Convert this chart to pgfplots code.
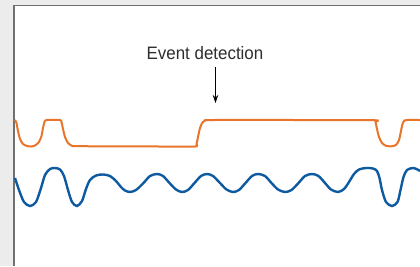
\documentclass[border=0pt]{standalone}
\usepackage{fontspec}
\setmainfont{Liberation Sans}
\newfontfamily\condfont{Liberation Sans}[FakeStretch=0.94]
\usepackage{pgfplots}
\pgfplotsset{compat=1.18}
\usetikzlibrary{arrows.meta}
\definecolor{bggray}{HTML}{EBECEB}
\definecolor{bordergray}{HTML}{707070}
\definecolor{sigorange}{HTML}{E8752A}
\definecolor{sigblue}{HTML}{0E5AA0}
\definecolor{txtgray}{HTML}{2E2E2E}
\begin{document}
\begin{tikzpicture}
\begin{axis}[
  scale only axis, width=420pt, height=266pt,
  xmin=0, xmax=420, ymin=0, ymax=266, y dir=reverse,
  axis line style={draw=none}, ticks=none,
  axis background/.style={fill=bggray},
  clip=true,
]
\fill[white] (axis cs:14,5.5) rectangle (axis cs:420,266);
\draw[bordergray, line width=1.8pt] (axis cs:14,266) -- (axis cs:14,5.5) -- (axis cs:420,5.5);

% orange event signal
\addplot[sigorange, line width=2pt, smooth, tension=0.4] coordinates {
 (15,120) (16.5,123) (18,131) (20,139) (23,144) (27,146) (31,146.5) (35,145.5) (39,142) (41.5,136) (43,128) (44.5,122) (46.5,120)
 (60,120) (61.5,122) (63,129) (65,137) (68,143) (72,145.8) (76,146.2)
 (120,146.3) (160,146.5) (195,146.5) (196.5,144) (198,137) (200,128) (202.5,122.5) (206,120.2) (210,120)
 (300,120) (374,120.2) (375.5,122) (377,129) (379,137) (382,143) (386,145.8) (391,146.3) (396,145) (399,140) (400.8,132) (402.5,124) (404.5,120.5) (407,120) (420,120)
};

% blue raw signal
\addplot[sigblue, line width=2.4pt, smooth, tension=0.5] coordinates {
 (15,178) (19,190) (24,202) (30,206) (36,202) (41,188) (45,175) (50,169) (55,168) (60,169.5) (64,176) (68,190) (72,202) (77,206) (82,201) (86,189) (90,180) (96,175.5) (103,174.5) (110,176) (116,181)
 (121,187) (125,190.5) (130,192) (136,190) (143.5,183) (150,176) (157,174) (163,176) (169.5,183)
 (176,189.5) (182,192) (188,190) (194.5,183) (201,176) (207,174) (213,176) (220,183)
 (226.5,189.5) (233,192) (239,190) (245.5,183) (252,176) (258,174) (265,176) (271.5,183)
 (278,189.5) (285,192) (291.5,190) (298.5,183) (305,176) (312,174) (318.5,176) (325,183)
 (331,189.5) (338,192) (344,189) (349,182) (354,174) (359,169.5) (366,168) (373,168.5) (377,171) (379.5,178) (382,190) (386,202) (392,206) (397.5,202) (400.5,190) (403.5,177) (407,170) (413,168) (417.5,169.5) (420,171)
};

\node[anchor=base, txtgray, font=\condfont\fontsize{18}{21}\selectfont] at (axis cs:205,59.5) {Event detection};
\draw[black, line width=1.2pt, -{Stealth[length=8pt,width=5.5pt]}] (axis cs:215.5,67) -- (axis cs:215.5,103);
\end{axis}
\end{tikzpicture}
\end{document}
